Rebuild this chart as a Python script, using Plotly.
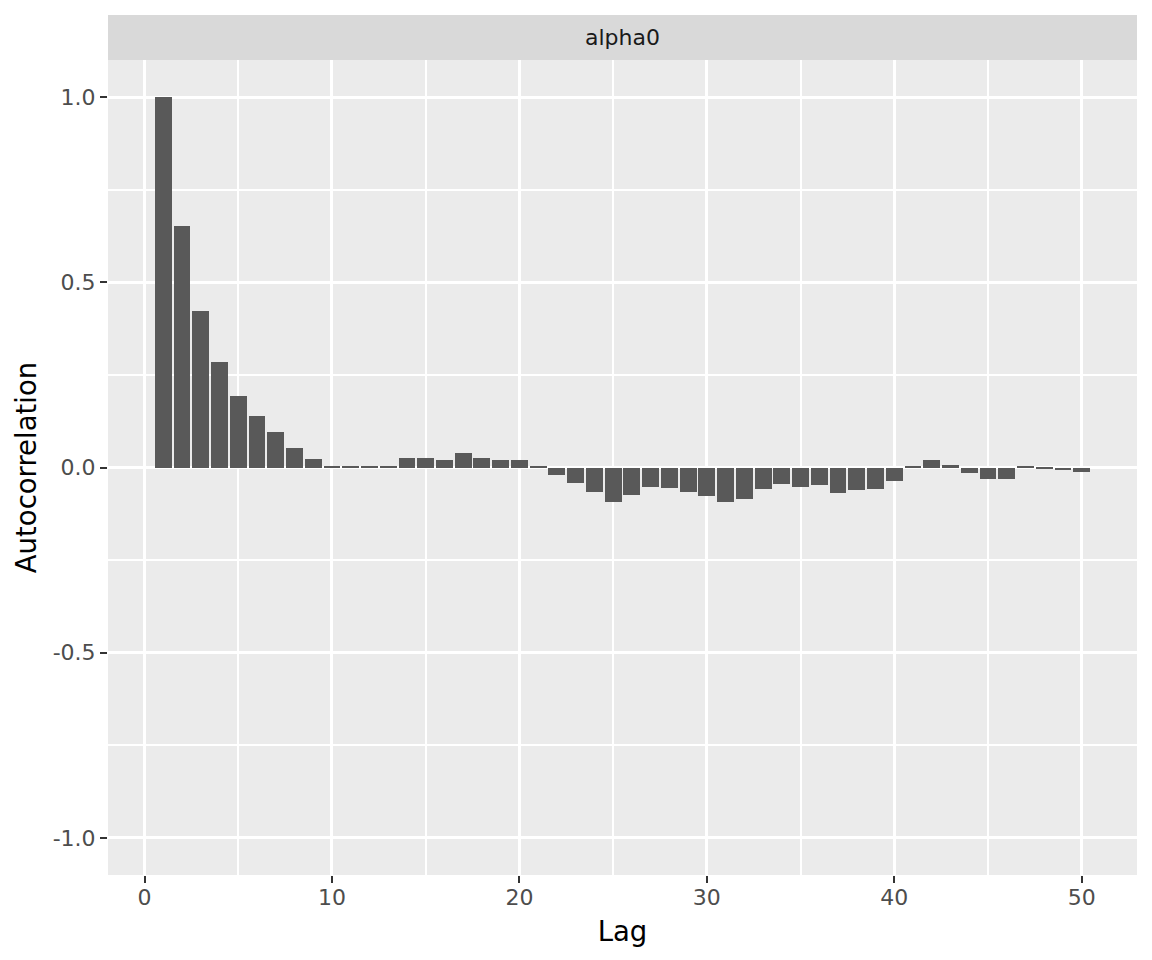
import plotly.graph_objects as go

# autocorrelation of alpha0 by lag
lags = list(range(1, 51))
acf = [
    1.000, 0.652, 0.423, 0.286, 0.194, 0.140, 0.097, 0.054, 0.022, 0.002,
    0.002, 0.002, 0.005, 0.027, 0.027, 0.019, 0.040, 0.027, 0.019, 0.019,
    0.002, -0.020, -0.041, -0.065, -0.092, -0.073, -0.052, -0.055, -0.065, -0.076,
    -0.092, -0.084, -0.057, -0.044, -0.052, -0.047, -0.068, -0.060, -0.057, -0.036,
    0.005, 0.021, 0.008, -0.014, -0.030, -0.030, 0.003, -0.003, -0.008, -0.011,
]
panel_name = "alpha0"
x_ticks = [0, 10, 20, 30, 40, 50]
y_ticks = [-1.0, -0.5, 0.0, 0.5, 1.0]
y_labels = ["-1.0", "-0.5", "0.0", "0.5", "1.0"]

FONT = "DejaVu Sans"

fig = go.Figure()
fig.add_trace(go.Bar(
    x=lags, y=acf, width=0.9,
    marker=dict(color="#595959", line=dict(width=0)),
    showlegend=False))

axis_common = dict(
    showgrid=True, gridcolor="white", gridwidth=3.4,
    zeroline=False, showline=False,
    ticks="outside", ticklen=7, tickwidth=2.4, tickcolor="#333333",
    tickfont=dict(family=FONT, size=22, color="#4D4D4D"),
    automargin=False,
)

# the page adds an 8px body margin, so the figure is drawn 8px smaller
plot_h = 952 - 52 - 85

fig.update_layout(
    width=1144, height=952,
    margin=dict(l=100, r=15, t=52, b=85),
    paper_bgcolor="white", plot_bgcolor="#EBEBEB",
    bargap=0,
    xaxis=dict(
        range=[-1.95, 52.95], tickvals=x_ticks,
        ticktext=[str(v) for v in x_ticks],
        ticklabelstandoff=-4,
        minor=dict(tickvals=[5, 15, 25, 35, 45], showgrid=True,
                   gridcolor="white", gridwidth=1.8),
        title=dict(text="Lag", font=dict(family=FONT, size=27.5, color="black"),
                   standoff=12),
        **axis_common),
    yaxis=dict(
        range=[-1.1, 1.1], tickvals=y_ticks, ticktext=y_labels,
        minor=dict(tickvals=[-0.75, -0.25, 0.25, 0.75], showgrid=True,
                   gridcolor="white", gridwidth=1.8),
        title=dict(text="Autocorrelation", font=dict(family=FONT, size=27.5, color="black"),
                   standoff=8),
        **axis_common),
)

# facet strip
fig.add_shape(type="rect", xref="paper", yref="paper",
              x0=0, x1=1, y0=1, y1=1 + 45 / plot_h,
              fillcolor="#D9D9D9", line=dict(width=0), layer="below")
fig.add_annotation(text=panel_name, xref="paper", yref="paper",
                   x=0.5, y=1 + 22.5 / plot_h, showarrow=False,
                   xanchor="center", yanchor="middle",
                   font=dict(family=FONT, size=22, color="#1A1A1A"))

fig.write_html("out.html")
